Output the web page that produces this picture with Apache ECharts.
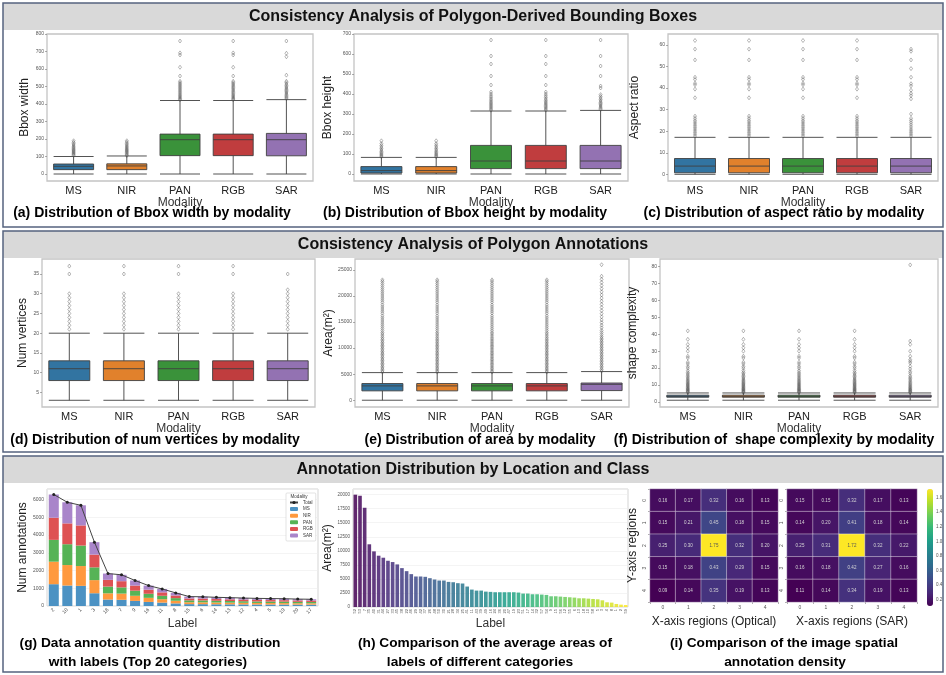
<!DOCTYPE html>
<html><head><meta charset="utf-8">
<script src="https://cdn.jsdelivr.net/npm/echarts@6/dist/echarts.min.js"></script>
<style>html,body{margin:0;padding:0;background:#fff}#c{width:946px;height:675px}</style>
</head><body><div id="c"></div>
<script>
// ---------- DATA ----------
const modalities = ['MS','NIR','PAN','RGB','SAR'];

// (a) Bbox width  [min, Q1, median, Q3, max]
const widthBoxes = [[0,25,44,57,100],[0,25,46,58,103],[0,105,196,228,420],[0,105,196,228,420],[0,104,196,232,425]];
const widthOutMS  = [106,111,116,121,126,131,136,141,147,153,159,166,173,181,190];
const widthOutNIR = [105,110,116,122,127,132,137,142,148,154,160,167,174,182,190];
const widthOutPAN = [424,429,434,440,446,452,459,466,473,480,487,494,501,508,515,522,530,560,610,680,692,760];
const widthOutRGB = [424,429,434,440,446,452,459,466,473,480,487,494,501,508,515,522,530,560,610,680,692,760];
const widthOutSAR = [430,436,442,449,456,463,470,477,484,491,498,506,514,522,530,565,670,690,760];

// (b) Bbox height
const heightBoxes = [[0,5,17,37,83],[0,5,17,37,83],[0,27,65,143,315],[0,27,65,143,315],[0,27,65,143,318]];
const heightOutMS  = [86,91,96,101,107,113,120,127,135,143,152,166];
const heightOutNIR = [86,91,96,101,107,113,120,127,135,143,152,166];
const heightOutPAN = [319,325,331,337,343,349,355,361,368,375,383,391,400,410,445,490,550,590,670];
const heightOutRGB = [319,325,331,337,343,349,355,361,368,375,383,391,400,410,445,490,550,590,670];
const heightOutSAR = [322,328,334,340,346,352,358,365,372,380,388,397,430,440,490,540,590,670];

// (c) Aspect ratio
const aspectBoxes = [[0.1,0.8,3.9,7.4,17.2],[0.1,0.8,3.9,7.4,17.2],[0.1,0.8,3.9,7.4,17.2],[0.1,0.8,3.9,7.4,17.2],[0.1,0.8,3.9,7.4,17.2]];
const aspectOutMS  = [17.8,18.6,19.4,20.2,21,21.8,22.6,23.4,24.2,25,26,27,35.5,39.5,41.5,42.2,44,45,53,58,62];
const aspectOutNIR = [17.8,18.6,19.4,20.2,21,21.8,22.6,23.4,24.2,25,26,27,35.5,39.5,41.5,42.2,44,45,53,58,62];
const aspectOutPAN = [17.8,18.6,19.4,20.2,21,21.8,22.6,23.4,24.2,25,26,27,35.5,39.5,41.5,42.2,44,45,53,58,62];
const aspectOutRGB = [17.8,18.6,19.4,20.2,21,21.8,22.6,23.4,24.2,25,26,27,35.5,39.5,41.5,42.2,44,45,53,58,62];
const aspectOutSAR = [17.8,18.6,19.4,20.2,21,22,23,24,25,26,28,35,36.5,37.5,39,41,42,45,49,53,57,58];

// (d) Num vertices
const vertBoxes = [[3,8,11,13,20],[3,8,11,13,20],[3,8,11,13,20],[3,8,11,13,20],[3,8,11,13,20]];
const vertOutMS  = [21,22,23,24,25,26,27,28,29,30,35,37];
const vertOutNIR = [21,22,23,24,25,26,27,28,29,30,35,37];
const vertOutPAN = [21,22,23,24,25,26,27,28,29,30,35,37];
const vertOutRGB = [21,22,23,24,25,26,27,28,29,30,35,37];
const vertOutSAR = [21,22,23,24,25,26,27,28,29,30,31,35];

// (e) Area
const areaBoxes = [[0,1800,2750,3200,5300],[0,1800,2750,3200,5300],[0,1800,2750,3200,5300],[0,1800,2750,3200,5300],[0,1850,3050,3300,5500]];
const areaOutMS  = [5400,5650,5950,6200,6500,6800,7050,7350,7650,7900,8200,8500,8800,9050,9350,9650,9950,10250,10500,10800,11100,11400,11700,12000,12350,12700,13000,13400,13800,14200,14600,15000,15400,15800,16200,16700,17100,17500,17900,18300,18800,19200,19600,20000,20400,20800,21200,21600,22000,22400,22800,23100];
const areaOutNIR = [5400,5650,5950,6200,6500,6800,7050,7350,7650,7900,8200,8500,8800,9050,9350,9650,9950,10250,10500,10800,11100,11400,11700,12000,12350,12700,13000,13400,13800,14200,14600,15000,15400,15800,16200,16700,17100,17500,17900,18300,18800,19200,19600,20000,20400,20800,21200,21600,22000,22400,22800,23100];
const areaOutPAN = [5400,5650,5950,6200,6500,6800,7050,7350,7650,7900,8200,8500,8800,9050,9350,9650,9950,10250,10500,10800,11100,11400,11700,12000,12350,12700,13000,13400,13800,14200,14600,15000,15400,15800,16200,16700,17100,17500,17900,18300,18800,19200,19600,20000,20400,20800,21200,21600,22000,22400,22800,23100];
const areaOutRGB = [5400,5650,5950,6200,6500,6800,7050,7350,7650,7900,8200,8500,8800,9050,9350,9650,9950,10250,10500,10800,11100,11400,11700,12000,12350,12700,13000,13400,13800,14200,14600,15000,15400,15800,16200,16700,17100,17500,17900,18300,18800,19200,19600,20000,20400,20800,21200,21600,22000,22400,22800,23100];
const areaOutSAR = [5600,5900,6200,6500,6800,7100,7400,7700,8000,8300,8600,8900,9200,9500,9800,10100,10400,10700,11000,11300,11600,11900,12200,12600,13000,13400,13900,14400,14900,15400,16000,16600,17200,17800,18400,19000,19600,20200,20800,21400,22000,22600,23200,23800,26000];

// (f) Shape complexity
const shapeBoxes = [[1,2.8,3.3,4.0,5.3],[1,2.8,3.3,4.0,5.3],[1,2.8,3.3,4.0,5.3],[1,2.8,3.3,4.0,5.3],[1,2.8,3.3,4.0,5.3]];
const shapeOutMS  = [5.6,6,6.4,6.8,7.2,7.6,8,8.5,9,9.5,10,10.5,11,11.6,12.2,12.8,13.5,14.2,15,15.8,16.6,17.4,18.5,20,21,22.5,23.5,26,27,30,32,34,37,42];
const shapeOutNIR = [5.6,6,6.4,6.8,7.2,7.6,8,8.5,9,9.5,10,10.5,11,11.6,12.2,12.8,13.5,14.2,15,15.8,16.6,17.4,18.5,20,21,22.5,23.5,26,27,30,32,34,37,42];
const shapeOutPAN = [5.6,6,6.4,6.8,7.2,7.6,8,8.5,9,9.5,10,10.5,11,11.6,12.2,12.8,13.5,14.2,15,15.8,16.6,17.4,18.5,20,21,22.5,23.5,26,27,30,32,34,37,42];
const shapeOutRGB = [5.6,6,6.4,6.8,7.2,7.6,8,8.5,9,9.5,10,10.5,11,11.6,12.2,12.8,13.5,14.2,15,15.8,16.6,17.4,18.5,20,21,22.5,23.5,26,27,30,32,34,37,42];
const shapeOutSAR = [5.5,5.9,6.3,6.7,7.1,7.5,8,8.5,9,9.6,10.2,10.8,11.5,12.2,13,13.8,14.6,15.5,17,18,19.5,21,23,24,25,27,30,34,36,81];

// (g) Top 20 categories stacked by modality
const gLabels = ['2','10','1','3','18','7','9','16','11','8','15','6','14','13','12','4','5','19','20','17'];
const gMS  = [1230,1155,1136,720,365,350,288,230,192,148,106,104,98,94,90,86,84,82,78,76];
const gNIR = [1270,1155,1118,740,350,350,288,230,192,148,106,104,98,94,90,86,84,82,78,76];
const gPAN = [1230,1175,1156,720,380,350,288,230,192,148,106,104,98,94,90,86,84,82,78,76];
const gRGB = [1250,1175,1135,720,380,350,288,230,192,148,106,104,98,94,90,86,84,82,78,76];
const gSAR = [1310,1190,1135,700,355,360,288,230,192,148,106,104,98,94,90,86,84,82,78,76];

// (h) Average area per category
const hLabels = ['52','53','7','35','40','31','44','27','33','45','38','22','46','29','42','37','26','48','50','30','21','28','34','25','41','11','43','39','49','16','24','36','20','47','19','23','51','17','14','32','57','54','9','15','56','12','55','6','13','18','10','58','5','3','4','8','1','2','59'];
const hValues = [19990,19800,17660,11160,9900,9130,8770,8230,8000,7580,6920,6380,5850,5430,5430,5370,5130,4890,4710,4710,4470,4410,4240,4180,3640,3100,2920,2920,2740,2690,2630,2630,2630,2630,2630,2570,2390,2390,2270,2270,2210,2150,1910,1910,1850,1790,1730,1670,1550,1550,1490,1430,1370,1190,840,780,540,420,360];

// (i) Spatial annotation density (rows = Y regions, cols = X regions)
const regionTicks = ['0','1','2','3','4'];
const densityOptical = [
  [0.16,0.17,0.32,0.16,0.13],
  [0.15,0.21,0.45,0.18,0.15],
  [0.25,0.30,1.75,0.32,0.20],
  [0.15,0.18,0.43,0.29,0.15],
  [0.09,0.14,0.35,0.19,0.13]];
const densitySAR = [
  [0.15,0.15,0.32,0.17,0.13],
  [0.14,0.20,0.41,0.18,0.14],
  [0.25,0.31,1.72,0.32,0.22],
  [0.16,0.18,0.42,0.27,0.16],
  [0.11,0.14,0.34,0.19,0.13]];
const colorbarTicks = [0.2,0.4,0.6,0.8,1.0,1.2,1.4,1.6];

// ---------- STYLE ----------
const F = '"Liberation Sans", Arial, sans-serif';
const boxColors = ['#3274a1','#e1812c','#3a923a','#c03d3e','#9372b2'];
const barColors = ['#4c92c3','#ff993e','#56b356','#de5253','#a985ca'];
const viridisStops = ['#440154','#482878','#3e4989','#31688e','#26828e','#1f9e89','#35b779','#6ece58','#b5de2b','#fde725'];
const plain = v => String(v);
function hex2rgb(h){return [1,3,5].map(i=>parseInt(h.substr(i,2),16));}
function viridis(t){
  const n = viridisStops.length-1, p = Math.max(0,Math.min(1,t))*n, i = Math.min(Math.floor(p), n-1), f = p-i;
  const a = hex2rgb(viridisStops[i]), b = hex2rgb(viridisStops[i+1]);
  return 'rgb('+a.map((v,k)=>Math.round(v+(b[k]-v)*f)).join(',')+')';
}

const grids=[], xAxes=[], yAxes=[], series=[], graphics=[];

function boxPanel(rect, yName, yMin, yMax, yTicks, boxes, outs, gapY, bw){
  const i = grids.length;
  grids.push({left:rect[0], top:rect[1], width:rect[2], height:rect[3], show:true, borderColor:'#c4c4c4', borderWidth:1.3, backgroundColor:'#fff'});
  xAxes.push({gridIndex:i, type:'category', data:modalities, axisLine:{show:false}, axisTick:{show:false},
    axisLabel:{fontSize:11, color:'#222', margin:4, fontFamily:F},
    name:'Modality', nameLocation:'middle', nameGap:14, nameTextStyle:{fontSize:12, color:'#333', fontFamily:F}});
  yAxes.push({gridIndex:i, type:'value', min:yMin, max:yMax, axisLine:{show:false},
    axisTick:{show:true, length:2, lineStyle:{color:'#777', width:0.6}, customValues:yTicks},
    axisLabel:{fontSize:5, color:'#555', margin:3, customValues:yTicks, formatter:plain, fontFamily:F}, splitLine:{show:false},
    name:yName, nameLocation:'middle', nameGap:gapY, nameTextStyle:{fontSize:12, color:'#222', fontFamily:F}});
  series.push({type:'boxplot', xAxisIndex:i, yAxisIndex:i, boxWidth:[bw,bw], silent:true,
    data:boxes.map((b,k)=>({value:b, itemStyle:{color:boxColors[k], borderColor:'#3f3f3f', borderWidth:0.9}}))});
  series.push({type:'scatter', xAxisIndex:i, yAxisIndex:i, symbol:'diamond', symbolSize:[3,4], silent:true, z:3,
    itemStyle:{color:'rgba(255,255,255,0)', borderColor:'#4a4a4a', borderWidth:0.5},
    data:outs.flatMap((arr,k)=>arr.map(v=>[k,v]))});
}

boxPanel([47,34,266,147],'Bbox width',-40,800,[0,100,200,300,400,500,600,700,800],widthBoxes,
  [widthOutMS,widthOutNIR,widthOutPAN,widthOutRGB,widthOutSAR],16,40);
boxPanel([354,34,274,147],'Bbox height',-35,700,[0,100,200,300,400,500,600,700],heightBoxes,
  [heightOutMS,heightOutNIR,heightOutPAN,heightOutRGB,heightOutSAR],20,41);
boxPanel([668,34,270,147],'Aspect ratio',-3,65,[0,10,20,30,40,50,60],aspectBoxes,
  [aspectOutMS,aspectOutNIR,aspectOutPAN,aspectOutRGB,aspectOutSAR],27,41);
boxPanel([42,259,273,148],'Num vertices',1.3,38.8,[5,10,15,20,25,30,35],vertBoxes,
  [vertOutMS,vertOutNIR,vertOutPAN,vertOutRGB,vertOutSAR],13,41);
boxPanel([355,259,274,148],'Area(m²)',-1300,27100,[0,5000,10000,15000,20000,25000],areaBoxes,
  [areaOutMS,areaOutNIR,areaOutPAN,areaOutRGB,areaOutSAR],19,41);
boxPanel([660,259,278,148],'shape complexity',-3,84.5,[0,10,20,30,40,50,60,70,80],shapeBoxes,
  [shapeOutMS,shapeOutNIR,shapeOutPAN,shapeOutRGB,shapeOutSAR],21,42);

// (g) stacked bars
const gi = grids.length;
grids.push({left:47, top:489, width:271, height:117, show:true, borderColor:'#d5d5d5', borderWidth:1});
xAxes.push({gridIndex:gi, type:'category', data:gLabels, axisLine:{show:false}, axisTick:{show:false},
  axisLabel:{rotate:45, fontSize:5, color:'#444', margin:3, interval:0, fontFamily:F},
  name:'Label', nameLocation:'middle', nameGap:11, nameTextStyle:{fontSize:12, color:'#333', fontFamily:F}});
yAxes.push({gridIndex:gi, type:'value', min:0, max:6600, interval:1000, axisLine:{show:false}, axisTick:{show:false},
  axisLabel:{fontSize:5, color:'#555', margin:3, showMaxLabel:false, formatter:plain, fontFamily:F},
  splitLine:{lineStyle:{color:'#ededed', width:0.6}},
  name:'Num annotations', nameLocation:'middle', nameGap:16, nameTextStyle:{fontSize:12, color:'#222', fontFamily:F}});
const gSeries = [gMS,gNIR,gPAN,gRGB,gSAR];
gSeries.forEach((d,k)=>series.push({type:'bar', name:modalities[k], stack:'g', xAxisIndex:gi, yAxisIndex:gi, barWidth:'74%',
  itemStyle:{color:barColors[k]}, data:d}));
const gTotal = gLabels.map((_,j)=>gSeries.reduce((s,a)=>s+a[j],0));
series.push({type:'line', name:'Total', xAxisIndex:gi, yAxisIndex:gi, data:gTotal, symbol:'circle', symbolSize:3,
  lineStyle:{color:'#444', width:1}, itemStyle:{color:'#222'}, z:5});

// (h) viridis bars
const hi = grids.length;
grids.push({left:353, top:489, width:275, height:118, show:true, borderColor:'#d5d5d5', borderWidth:1});
xAxes.push({gridIndex:hi, type:'category', data:hLabels, axisLine:{show:false}, axisTick:{show:false},
  axisLabel:{rotate:90, fontSize:4, color:'#555', margin:2, interval:0, fontFamily:F},
  name:'Label', nameLocation:'middle', nameGap:10, nameTextStyle:{fontSize:12, color:'#333', fontFamily:F}});
yAxes.push({gridIndex:hi, type:'value', min:0, max:21000, interval:2500, axisLine:{show:false}, axisTick:{show:false},
  axisLabel:{fontSize:4.5, color:'#555', margin:3, showMaxLabel:false, formatter:plain, fontFamily:F},
  splitLine:{lineStyle:{color:'#ededed', width:0.6}},
  name:'Area(m²)', nameLocation:'middle', nameGap:17, nameTextStyle:{fontSize:12, color:'#222', fontFamily:F}});
series.push({type:'bar', xAxisIndex:hi, yAxisIndex:hi, barWidth:'78%', silent:true,
  data:hValues.map((v,k)=>({value:v, itemStyle:{color:viridis(k/(hValues.length-1)), opacity:0.85}}))});

// (i) heatmaps
const heatIdx = [];
function heatPanel(rect, mat, xName, yName){
  const i = grids.length;
  grids.push({left:rect[0], top:rect[1], width:rect[2], height:rect[3]});
  xAxes.push({gridIndex:i, type:'category', data:regionTicks, axisLine:{show:false},
    axisTick:{show:true, length:2, lineStyle:{color:'#777', width:0.6}},
    axisLabel:{fontSize:5, color:'#555', margin:3, fontFamily:F}, splitArea:{show:false},
    name:xName, nameLocation:'middle', nameGap:14, nameTextStyle:{fontSize:12, color:'#222', fontFamily:F}});
  yAxes.push({gridIndex:i, type:'category', inverse:true, data:regionTicks, axisLine:{show:false},
    axisTick:{show:true, length:2, lineStyle:{color:'#777', width:0.6}},
    axisLabel:{fontSize:5, color:'#555', margin:3, rotate:90, fontFamily:F}, splitArea:{show:false},
    name:yName, nameLocation:'middle', nameGap:11, nameTextStyle:{fontSize:12, color:'#222', fontFamily:F}});
  const data = [];
  mat.forEach((row,r)=>row.forEach((v,c)=>data.push({value:[c,r,v], label:{color: v>1 ? '#555' : '#d8d8d8'}})));
  heatIdx.push(series.length);
  series.push({type:'heatmap', xAxisIndex:i, yAxisIndex:i, data, silent:true,
    itemStyle:{borderColor:'rgba(255,255,255,0.5)', borderWidth:0.8},
    label:{show:true, fontSize:4.5, fontFamily:F, formatter:p=>p.value[2].toFixed(2)}});
}
heatPanel([650,489,128,113], densityOptical, 'X-axis regions (Optical)', 'Y-axis regions');
heatPanel([787,489,130,113], densitySAR, 'X-axis regions (SAR)', '');

// colorbar axis
const ci = grids.length;
grids.push({left:927, top:489, width:6, height:117});
xAxes.push({gridIndex:ci, type:'value', show:false, min:0, max:1});
yAxes.push({gridIndex:ci, type:'value', position:'right', min:0.11, max:1.72, axisLine:{show:false},
  axisTick:{show:true, length:2, lineStyle:{color:'#777', width:0.6}, customValues:colorbarTicks},
  axisLabel:{fontSize:4.5, color:'#555', margin:3, customValues:colorbarTicks, formatter:v=>v.toFixed(1), fontFamily:F},
  splitLine:{show:false}});
series.push({type:'scatter', xAxisIndex:ci, yAxisIndex:ci, data:[], silent:true});

// ---------- frames, headers, captions ----------
function section(y0, y1, title){
  graphics.push({type:'rect', shape:{x:3, y:y0, width:940, height:27}, style:{fill:'#d9d9d9'}, silent:true, z:-1});
  graphics.push({type:'rect', shape:{x:3, y:y0, width:940, height:y1-y0}, style:{fill:null, stroke:'#56637f', lineWidth:1.5}, silent:true});
  graphics.push({type:'text', x:473, y:y0+14, silent:true,
    style:{text:title, font:'bold 16px '+F, fill:'#111', textAlign:'center', textVerticalAlign:'middle'}});
}
section(3, 227, 'Consistency Analysis of Polygon-Derived Bounding Boxes');
section(231, 452, 'Consistency Analysis of Polygon Annotations');
section(456, 672, 'Annotation Distribution by Location and Class');

function caption(x, y, text, size){
  graphics.push({type:'text', x, y, silent:true,
    style:{text, font:'bold '+size+'px '+F, fill:'#000', textAlign:'center', textVerticalAlign:'middle'}});
}
caption(152, 213, '(a) Distribution of Bbox width by modality', 14);
caption(465, 213, '(b) Distribution of Bbox height by modality', 14);
caption(784, 213, '(c) Distribution of aspect ratio by modality', 14);
caption(155, 440, '(d) Distribution of num vertices by modality', 14);
caption(480, 440, '(e) Distribution of area by modality', 14);
caption(774, 440, '(f) Distribution of  shape complexity by modality', 14);
caption(150, 643, '(g) Data annotation quantity distribution', 13.7);
caption(148, 662, 'with labels (Top 20 categories)', 13.7);
caption(485, 643, '(h) Comparison of the average areas of', 13.7);
caption(480, 662, 'labels of different categories', 13.7);
caption(784, 643, '(i) Comparison of the image spatial', 13.7);
caption(785, 662, 'annotation density', 13.7);
// legend title for (g)
graphics.push({type:'text', x:299, y:497, silent:true, z:100,
  style:{text:'Modality', font:'4.5px '+F, fill:'#333', textAlign:'center', textVerticalAlign:'middle'}});

const chart = echarts.init(document.getElementById('c'), null, {renderer:'canvas'});
chart.setOption({
  animation:false,
  backgroundColor:'#ffffff',
  textStyle:{fontFamily:F},
  grid:grids, xAxis:xAxes, yAxis:yAxes, series,
  legend:{data:['Total','MS','NIR','PAN','RGB','SAR'], orient:'vertical', left:286, top:493, itemWidth:8, itemHeight:4, itemGap:1.6,
    padding:[7,3,3,3], backgroundColor:'rgba(255,255,255,0.9)', borderColor:'#d0d0d0', borderWidth:0.6, borderRadius:1,
    textStyle:{fontSize:4.5, color:'#333', fontFamily:F}, selectedMode:false},
  visualMap:{type:'continuous', min:0.11, max:1.72, seriesIndex:heatIdx, inRange:{color:viridisStops},
    left:927, top:489, itemWidth:6, itemHeight:117, padding:0, text:null, calculable:false, hoverLink:false, showLabel:false},
  graphic:graphics
});
</script>
</body></html>
